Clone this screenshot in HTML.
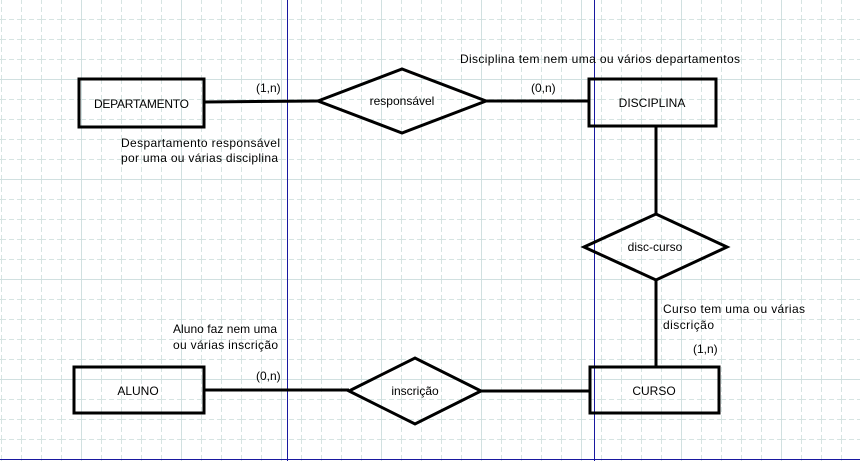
<!DOCTYPE html>
<html><head><meta charset="utf-8"><style>
html,body{margin:0;padding:0;background:#fff;width:860px;height:461px;overflow:hidden}
svg{display:block}
text{font-family:"Liberation Sans",sans-serif;font-size:12px;fill:#000}
</style></head><body>
<svg width="860" height="461" viewBox="0 0 860 461">
<defs>
<pattern id="minor" width="20" height="20" patternUnits="userSpaceOnUse" x="1" y="-1">
<path d="M0 0.5H20 M0.5 0V20" stroke="#d6e4e2" stroke-width="1" stroke-dasharray="5,3" fill="none" shape-rendering="crispEdges"/>
</pattern>
<pattern id="major" width="100" height="100" patternUnits="userSpaceOnUse" x="81" y="79">
<path d="M0 0.5H100 M0.5 0V100" stroke="#d0e0e0" stroke-width="1" fill="none" shape-rendering="crispEdges"/>
</pattern>
</defs>
<rect width="860" height="461" fill="#fff"/>
<rect width="860" height="461" fill="url(#minor)"/>
<rect width="860" height="461" fill="url(#major)"/>
<rect x="287" y="0" width="1" height="461" fill="#1818a0"/>
<rect x="594" y="0" width="1" height="461" fill="#1818a0"/>
<rect x="0" y="459" width="860" height="1" fill="#1818a0"/>
<g stroke="#000" stroke-width="3" fill="#fff">
<line x1="204" y1="102" x2="318" y2="101" fill="none"/>
<line x1="486" y1="101" x2="589" y2="101" fill="none"/>
<line x1="656" y1="126" x2="656" y2="214" fill="none"/>
<line x1="656" y1="280" x2="656" y2="367" fill="none"/>
<line x1="204" y1="390" x2="349" y2="390" fill="none"/>
<line x1="481" y1="391" x2="590" y2="391" fill="none"/>
<rect x="79" y="79" width="125" height="48" fill="none"/>
<rect x="589" y="79" width="127" height="47" fill="none"/>
<rect x="590" y="367" width="129" height="46" fill="none"/>
<rect x="74" y="367" width="130" height="46" fill="none"/>
<polygon points="318,101 402,69 486,101 402,133" fill="none"/>
<polygon points="584,247 656,214 727,247 656,280" fill="none"/>
<polygon points="349,391 415,358 481,391 415,424" fill="none"/>
</g>
<text x="94" y="108" textLength="95">DEPARTAMENTO</text>
<text x="652" y="107" text-anchor="middle">DISCIPLINA</text>
<text x="654" y="395" text-anchor="middle">CURSO</text>
<text x="138" y="395" text-anchor="middle">ALUNO</text>
<text x="402" y="105" text-anchor="middle">responsável</text>
<text x="655" y="251" text-anchor="middle">disc-curso</text>
<text x="415" y="395" text-anchor="middle">inscrição</text>
<text x="256" y="92">(1,n)</text>
<text x="531" y="92">(0,n)</text>
<text x="256" y="380">(0,n)</text>
<text x="693" y="353">(1,n)</text>
<text x="460" y="63" textLength="280">Disciplina tem nem uma ou vários departamentos</text>
<text x="121" y="147" textLength="159">Despartamento responsável</text>
<text x="121" y="162" textLength="157">por uma ou várias disciplina</text>
<text x="663" y="313" textLength="142">Curso tem uma ou várias</text>
<text x="663" y="329" textLength="51">discrição</text>
<text x="173" y="333" textLength="104">Aluno faz nem uma</text>
<text x="173" y="349" textLength="105">ou várias inscrição</text>
</svg>
</body></html>
